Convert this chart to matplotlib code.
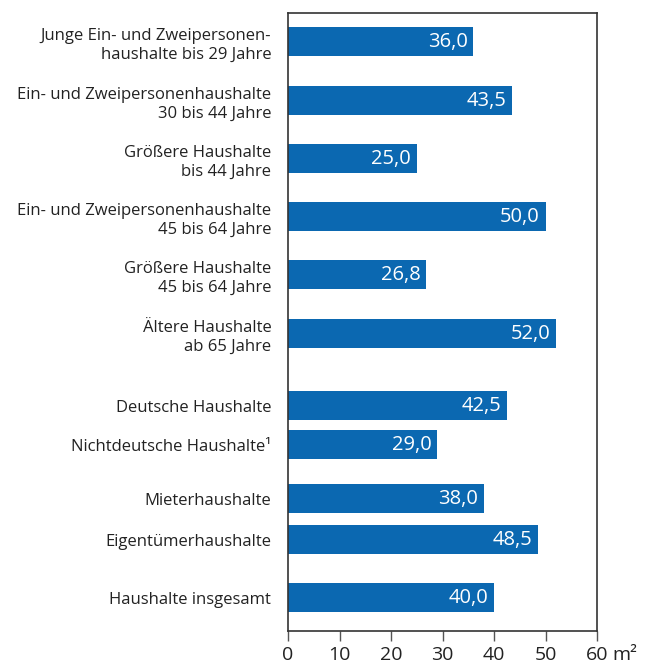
import matplotlib
matplotlib.use("Agg")
import matplotlib.pyplot as plt

plt.rcParams["font.family"] = ["Open Sans", "DejaVu Sans"]

labels = [
    "Junge Ein- und Zweipersonen-\nhaushalte bis 29 Jahre",
    "Ein- und Zweipersonenhaushalte\n30 bis 44 Jahre",
    "Größere Haushalte\nbis 44 Jahre",
    "Ein- und Zweipersonenhaushalte\n45 bis 64 Jahre",
    "Größere Haushalte\n45 bis 64 Jahre",
    "Ältere Haushalte\nab 65 Jahre",
    "Deutsche Haushalte",
    "Nichtdeutsche Haushalte¹",
    "Mieterhaushalte",
    "Eigentümerhaushalte",
    "Haushalte insgesamt",
]
values = [36.0, 43.5, 25.0, 50.0, 26.8, 52.0, 42.5, 29.0, 38.0, 48.5, 40.0]

# layout: bar centres in pixel-like units from the top
positions = [42, 101, 159, 217, 275, 334, 406, 445, 499, 540, 598]

BLUE = "#0b68b1"
TEXT = "#222222"

fig = plt.figure(figsize=(6.5, 6.66), dpi=100)
ax = fig.add_axes([288 / 650, 1 - 631 / 666, (597 - 288) / 650, (631 - 13) / 666])

ax.barh(positions, values, height=29, color=BLUE)
for y, v in zip(positions, values):
    ax.annotate(f"{v:.1f}".replace(".", ","), xy=(v, y), xytext=(-4, 0),
                textcoords="offset points", ha="right", va="center",
                color="white", fontsize=14.5)

ax.set_xlim(0, 60)
ax.set_ylim(631, 13)
ax.set_xticks(range(0, 61, 10))
ax.set_yticks(positions)
ax.set_yticklabels(labels, fontsize=12, color=TEXT, linespacing=1.2)
ax.tick_params(axis="y", length=0, pad=12)
ax.tick_params(axis="x", length=7, width=1, color="#555555", labelsize=14,
               labelcolor=TEXT, pad=4)
for s in ax.spines.values():
    s.set_color("#333333")
    s.set_linewidth(1.2)

ax.annotate("m²", xy=(60, 0), xycoords=("data", "axes fraction"),
            xytext=(11, -17.5), textcoords="offset points", fontsize=14,
            color=TEXT, ha="left", va="center")

fig.savefig("out.png", dpi=100)
